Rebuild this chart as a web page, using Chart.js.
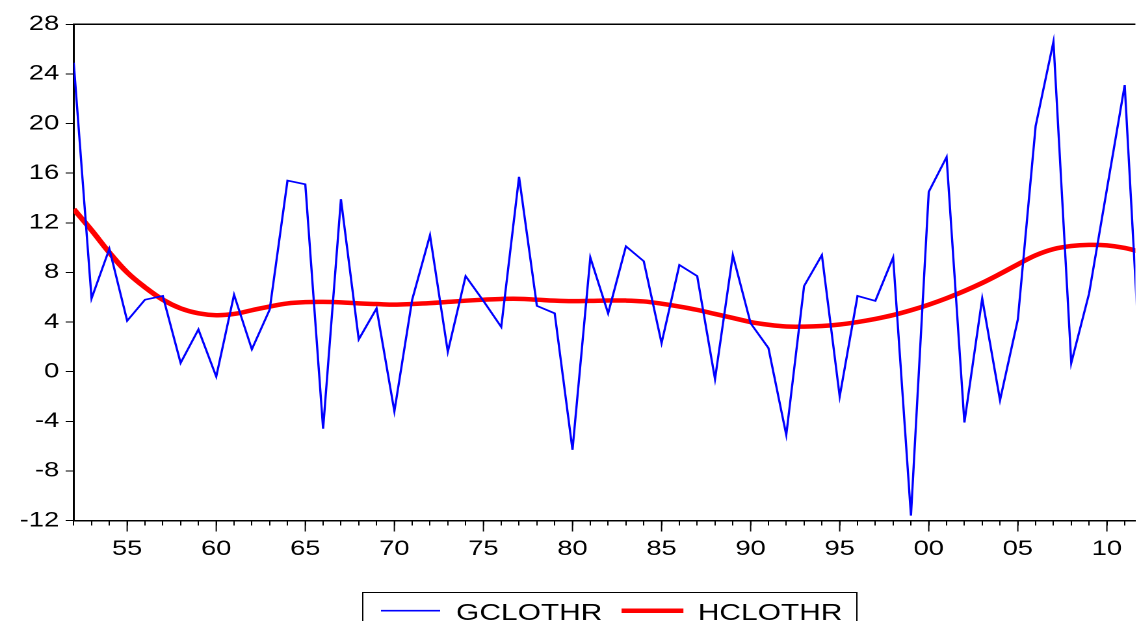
<!DOCTYPE html>
<html>
<head>
<meta charset="utf-8">
<script src="https://cdn.jsdelivr.net/npm/chart.js@4"></script>
<style>
  html, body { margin: 0; padding: 0; background: #fff; overflow: hidden; }
  /* the original picture is stretched sideways, so the chart is drawn narrow and scaled */
  #wrap { width: 876px; height: 621px; transform: scaleX(1.30023); transform-origin: 0 0; }
</style>
</head>
<body>
<div id="wrap"><canvas id="clothChart" width="876" height="621"></canvas></div>
<script>
// yearly observations
const years = [1952, 1953, 1954, 1955, 1956, 1957, 1958, 1959, 1960, 1961,
    1962, 1963, 1964, 1965, 1966, 1967, 1968, 1969, 1970, 1971,
    1972, 1973, 1974, 1975, 1976, 1977, 1978, 1979, 1980, 1981,
    1982, 1983, 1984, 1985, 1986, 1987, 1988, 1989, 1990, 1991,
    1992, 1993, 1994, 1995, 1996, 1997, 1998, 1999, 2000, 2001,
    2002, 2003, 2004, 2005, 2006, 2007, 2008, 2009, 2010, 2011, 2012];

const gclothr = [24.9, 5.9, 9.9, 4.1, 5.8, 6.1, 0.7, 3.4, -0.4, 6.2,
    1.8, 5.0, 15.4, 15.1, -4.6, 13.9, 2.6, 5.1, -3.2, 5.8,
    11.0, 1.6, 7.7, 5.7, 3.6, 15.7, 5.3, 4.7, -6.3, 9.2,
    4.7, 10.1, 8.9, 2.3, 8.6, 7.7, -0.6, 9.4, 3.9, 1.9,
    -5.1, 6.9, 9.4, -2.0, 6.1, 5.7, 9.2, -11.6, 14.5, 17.3,
    -4.1, 5.9, -2.3, 4.2, 19.8, 26.6, 0.7, 6.3, 14.7, 23.1, -3.0];

const hclothr = [13.1, 11.4, 9.6, 8.0, 6.8, 5.8, 5.1, 4.7, 4.55, 4.65,
    4.95, 5.25, 5.5, 5.6, 5.62, 5.58, 5.5, 5.45, 5.4, 5.45,
    5.52, 5.62, 5.72, 5.8, 5.86, 5.87, 5.8, 5.72, 5.68, 5.7,
    5.73, 5.73, 5.66, 5.48, 5.25, 4.98, 4.65, 4.33, 4.0, 3.78,
    3.64, 3.63, 3.68, 3.8, 4.0, 4.25, 4.56, 4.95, 5.4, 5.92,
    6.5, 7.15, 7.88, 8.65, 9.38, 9.88, 10.13, 10.22, 10.18, 9.97, 9.6];

const seriesNames = ['GCLOTHR', 'HCLOTHR'];

const FONT = '"Liberation Sans", Arial, sans-serif';

function toPoints(values) {
    return values.map((v, i) => ({ x: years[i], y: v }));
}

// top frame line and the longer ticks every five years
const frameTicks = {
    id: 'frameTicks',
    afterDraw(chart) {
        const ctx = chart.ctx;
        const area = chart.chartArea;
        const x = chart.scales.x;
        ctx.save();
        ctx.strokeStyle = '#000';
        ctx.lineWidth = 1.5;
        ctx.beginPath();
        ctx.moveTo(area.left, area.top);
        ctx.lineTo(area.right, area.top);
        ctx.stroke();
        ctx.lineWidth = 1;
        years.forEach(yr => {
            if (yr % 5 !== 0 || yr > x.max) return;
            const px = x.getPixelForValue(yr);
            ctx.beginPath();
            ctx.moveTo(px, area.bottom);
            ctx.lineTo(px, area.bottom + 11);
            ctx.stroke();
        });
        ctx.restore();
    }
};

// boxed legend under the axis
const boxLegend = {
    id: 'boxLegend',
    afterDraw(chart) {
        const ctx = chart.ctx;
        const sampleX = [[293, 338.5], [478, 525.6]];
        const textX = [350.8, 536.7];
        ctx.save();
        ctx.strokeStyle = '#000';
        ctx.lineWidth = 1;
        ctx.strokeRect(279, 592.5, 380, 60);
        ctx.font = '23px ' + FONT;
        ctx.textBaseline = 'alphabetic';
        ctx.fillStyle = '#000';
        chart.data.datasets.forEach((ds, i) => {
            ctx.strokeStyle = ds.borderColor;
            ctx.lineWidth = ds.borderWidth;
            ctx.beginPath();
            ctx.moveTo(sampleX[i][0], 610.7);
            ctx.lineTo(sampleX[i][1], 610.7);
            ctx.stroke();
            ctx.fillText(ds.label, textX[i], 620);
        });
        ctx.restore();
    }
};

const ctx = document.getElementById('clothChart').getContext('2d');
const clothChart = new Chart(ctx, {
    type: 'line',
    data: {
        datasets: [
            {
                label: seriesNames[0],
                data: toPoints(gclothr),
                borderColor: '#0000ff',
                borderWidth: 1.7,
                pointRadius: 0,
                tension: 0,
                clip: 0
            },
            {
                label: seriesNames[1],
                data: toPoints(hclothr),
                borderColor: '#ff0000',
                borderWidth: 4.5,
                pointRadius: 0,
                tension: 0.4,
                clip: 0
            }
        ]
    },
    options: {
        responsive: false,
        animation: false,
        devicePixelRatio: 2,
        layout: { padding: { top: 24.3, left: 0, right: -2.3, bottom: 0 } },
        scales: {
            x: {
                type: 'linear',
                min: 1952,
                max: 2011.6,
                afterFit: s => { s.height = 100.5; },
                border: { display: true, color: '#000', width: 1.5 },
                grid: { display: true, drawOnChartArea: false, drawTicks: true, tickLength: 5, color: '#000' },
                ticks: {
                    stepSize: 1,
                    autoSkip: false,
                    includeBounds: false,
                    maxRotation: 0,
                    padding: 11,
                    color: '#000',
                    font: { family: FONT, size: 21 },
                    callback: v => (v % 5 === 0 ? String(v % 100).padStart(2, '0') : '')
                }
            },
            y: {
                min: -12,
                max: 28,
                afterFit: s => { s.width = 56.7; },
                border: { display: true, color: '#000', width: 1.5 },
                grid: { display: true, drawOnChartArea: false, drawTicks: true, tickLength: 6.2, color: '#000' },
                ticks: {
                    stepSize: 4,
                    padding: 5,
                    color: '#000',
                    font: { family: FONT, size: 21 }
                }
            }
        },
        plugins: {
            legend: { display: false },
            tooltip: { enabled: false }
        }
    },
    plugins: [frameTicks, boxLegend]
});
</script>
</body>
</html>
